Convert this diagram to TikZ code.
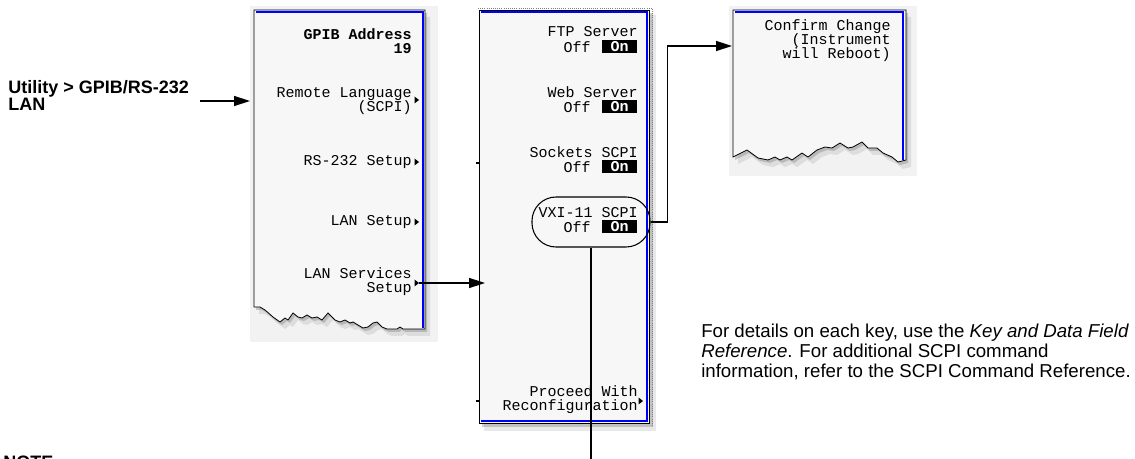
\documentclass[tikz,border=0pt]{standalone}
\usepackage{fontspec}
\setmainfont{Liberation Sans}
\newfontfamily\scrfont{Liberation Mono}
\usetikzlibrary{calc,arrows.meta}
\def\keytri(#1,#2){\fill (#1,#2) -- ++(-4.5,-3.5) -- ++(0,7) -- cycle;}
\def\panelone[#1]{\path[#1] (254,10) -- (254,307) -- (260,307) -- (265,310) -- (273,317) -- (280,322) -- (285,318) -- (288,320) -- (293,313) -- (298,317) -- (302,318) -- (307,315) -- (312,318) -- (317,317) -- (322,320) -- (328,313) -- (335,320) -- (340,322) -- (345,320) -- (350,323) -- (353,322) -- (358,325) -- (363,328) -- (368,327) -- (373,323) -- (377,322) -- (382,327) -- (387,329) -- (397,329) -- (400,327) -- (403,329) -- (425,329) -- (425,10) -- cycle;}
\def\panelthree[#1]{\path[#1] (733,10) -- (733,157) -- (747,150) -- (758,158) -- (768,160) -- (775,157) -- (780,160) -- (787,157) -- (792,160) -- (802,153) -- (808,157) -- (817,150) -- (825,147) -- (832,148) -- (840,143) -- (848,148) -- (853,147) -- (862,142) -- (868,148) -- (877,148) -- (883,153) -- (892,157) -- (898,162) -- (906,160) -- (906,10) -- cycle;}

\begin{document}
\begin{tikzpicture}[x=0.75pt,y=-0.75pt,
		scr/.style={font=\scrfont\fontsize{11.25}{10.5}\selectfont, inner sep=0pt, align=right},
		scrb/.style={scr, font=\scrfont\bfseries\fontsize{11.25}{10.5}\selectfont},
		onkey/.style={fill=black, text=white, inner sep=0pt, minimum width=26.25pt, minimum height=9.75pt, font=\scrfont\bfseries\fontsize{11.25}{10.5}\selectfont},
		link/.style={line width=1.1pt, -{Triangle[length=12pt,width=7.5pt]}},
		wire/.style={line width=1.1pt},
		paper/.style={fill=black!3, draw=black, line width=0.6pt},
		rim/.style={draw=blue, line width=1.5pt},
		drop/.style={fill=black!60, opacity=#1},
		backdrop/.style={fill=black!5}]
			%%%%% START %%%%%
			\useasboundingbox (0,0) rectangle (1135,459);
			
			% screens
			\fill[backdrop] (250,6) rectangle (438,342);
			\fill[backdrop] (729,6) rectangle (917,176);
			
			\panelone[drop=.3, shift={(2,3)}]
			\panelone[drop=.15, shift={(5,7)}]
			\panelone[paper]
			\draw[rim] (256,12) -- (423,12) -- (423,328);
			
			\fill[drop=.3] (482,13) rectangle (653,427);
			\fill[drop=.15] (484,15) rectangle (656,431);
			\draw[paper] (479,10) rectangle (649,423);
			\draw[rim] (481,12) -- (647,12) -- (647,421) -- (481,421);
			\draw[densely dotted, black!50, line width=0.6pt] (478,8) -- (652,8) -- (652,425);
			\draw[line width=0.8pt] (476,163) -- (479,163);
			\draw[line width=0.8pt] (476,401) -- (479,401);
			
			\panelthree[drop=.3, shift={(2,3)}]
			\panelthree[drop=.15, shift={(5,7)}]
			\panelthree[paper]
			\draw[rim] (735,12) -- (903,12) -- (903,160);
			
			% panel one keys
			\node[scrb, anchor=east] (gpib) at (412,41) {GPIB Address\\19};
			\node[scr, anchor=east] (remote) at (412,101) {Remote Language\\(SCPI)};
			\node[scr, anchor=east] (rsset) at (412,162) {RS-232 Setup};
			\node[scr, anchor=east] (lanset) at (412,222) {LAN Setup};
			\node[scr, anchor=east] (lansvc) at (412,282) {LAN Services\\Setup};
			\keytri(419,100)
			\keytri(419,162)
			\keytri(419,222)
			\keytri(419,283)
			
			% panel two keys
			\node[scr, anchor=east] (ftp) at (638,32) {FTP Server};
			\node[scr, anchor=east] (ftpoff) at (591,47) {Off};
			\node[onkey] (ftpon) at (619.5,46.5) {On};
			\node[scr, anchor=east] (web) at (638,92) {Web Server};
			\node[scr, anchor=east] (weboff) at (591,107) {Off};
			\node[onkey] (webon) at (619.5,106.5) {On};
			\node[scr, anchor=east] (sock) at (638,152) {Sockets SCPI};
			\node[scr, anchor=east] (sockoff) at (591,167) {Off};
			\node[onkey] (sockon) at (619.5,166.5) {On};
			\node[scr, anchor=east] (vxi) at (638,213) {VXI-11 SCPI};
			\node[scr, anchor=east] (vxioff) at (591,227) {Off};
			\node[onkey] (vxion) at (619.5,226.5) {On};
			\node[scr, anchor=east] (proceed) at (638,400) {Proceed With\\Reconfiguration};
			\keytri(643,401)
			
			% panel three
			\node[scr, anchor=east] (confirm) at (891,41) {Confirm Change\\(Instrument\\will Reboot)};
			
			\node[draw, line width=0.8pt, rounded corners=18pt, minimum width=88.5pt, minimum height=37.5pt] (vxioval) at (591,222) {};
			
			% labels
			\node[font=\bfseries\fontsize{13.5}{12.75}\selectfont, align=left, anchor=north west, inner sep=0pt] (menupath) at (8,80) {Utility > GPIB/RS-232\\LAN};
			\node[font=\fontsize{14}{15}\selectfont, align=left, anchor=north west, inner sep=0pt] (refnote) at (701,324) {For details on each key, use the \textit{Key and Data Field}\\\textit{Reference}. For additional SCPI command\\information, refer to the SCPI Command Reference.};
			\node[font=\bfseries\fontsize{13.5}{15}\selectfont, anchor=north west, inner sep=0pt] (notehead) at (3,456) {NOTE};
			
			% connectors
			\coordinate (navstart) at (200,101);
			\coordinate (navend) at (250,101);
			\draw[link] (navstart) -- (navend);
			
			\coordinate (svcstart) at (419,283);
			\coordinate (svcend) at (485,283);
			\draw[link] (svcstart) -- (svcend);
			
			\coordinate (cfmend) at (732,46);
			\draw[link] (vxioval.east) -- ++(17,0) |- (cfmend);
			
			\coordinate (noteend) at (vxioval.south |- 0,465);
			\draw[wire] (vxioval.south) -- (noteend);
			
			%%%%% END %%%%%
\end{tikzpicture}
\end{document}
